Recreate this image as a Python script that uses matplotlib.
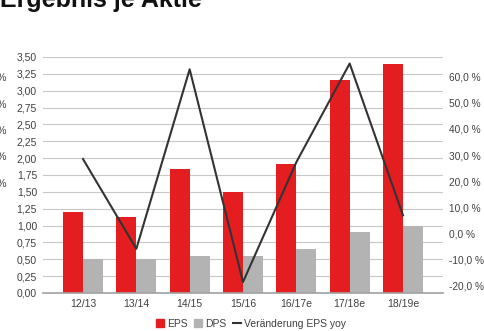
import numpy as np
from matplotlib import pyplot as plt
from matplotlib.ticker import FuncFormatter
from matplotlib.patches import Patch
from matplotlib.lines import Line2D

plt.rcParams['font.family'] = ['Liberation Sans', 'DejaVu Sans']

years = ["12/13", "13/14", "14/15", "15/16", "16/17e", "17/18e", "18/19e"]
eps = [1.20, 1.13, 1.84, 1.50, 1.91, 3.16, 3.39]
dps = [0.50, 0.50, 0.55, 0.55, 0.65, 0.90, 1.00]
eps_change = [28.5, -5.8, 62.8, -18.5, 27.3, 65.0, 7.0]

red = "#e41e20"
grey = "#b3b3b3"
text_col = "#404040"

fig = plt.figure(figsize=(4.85, 3.31), dpi=100)
ax = fig.add_axes([43 / 485, 1 - 293 / 331, 400 / 485, 236 / 331])

x = np.arange(len(years))
w = 0.375
ax.bar(x - w / 2, eps, w, color=red, zorder=2)
ax.bar(x + w / 2, dps, w, color=grey, zorder=2)

ax.set_xlim(-0.75, 6.75)
ax.set_ylim(0, 3.5)
ax.set_yticks(np.arange(0, 3.51, 0.25))
ax.yaxis.set_major_formatter(FuncFormatter(lambda v, p: f"{v:.2f}".replace(".", ",")))
ax.grid(axis="y", color="#c8c8c8", linewidth=0.8, zorder=0)
ax.set_xticks(x)
ax.set_xticklabels(years)
ax.tick_params(length=0, labelsize=7.5, colors=text_col)
ax.tick_params(axis="y", pad=4.3)
ax.tick_params(axis="x", pad=4)
for s in ["top", "right", "left"]:
    ax.spines[s].set_visible(False)
ax.spines["bottom"].set_color("#a0a0a0")
ax.spines["bottom"].set_linewidth(1.2)

ax2 = ax.twinx()
ax2.plot(x, eps_change, color="#333333", linewidth=1.5, zorder=3)
ax2.set_ylim(-22.7, 67.5)
ax2.set_yticks(np.arange(-20, 61, 10))
ax2.yaxis.set_major_formatter(FuncFormatter(lambda v, p: f"{v:.1f} %".replace(".", ",")))
ax2.tick_params(length=0, labelsize=7.3, colors=text_col, pad=4.5)
for s in ax2.spines.values():
    s.set_visible(False)

handles = [
    Patch(color=red, label="EPS"),
    Patch(color=grey, label="DPS"),
    Line2D([0], [0], color="#333333", linewidth=1.5, label="Veränderung EPS yoy"),
]
leg = fig.legend(handles=handles, loc="center", bbox_to_anchor=(251 / 485, 1 - 324 / 331),
                 ncol=3, frameon=False, fontsize=7.5, handlelength=0.8, handleheight=0.8,
                 handletextpad=0.3, columnspacing=0.6)
for t in leg.get_texts():
    t.set_color(text_col)

# cut-off title and left-edge remnants from the original page
fig.text(0, 1 - 7 / 331, "Ergebnis je Aktie", fontsize=18, fontweight="bold",
         va="baseline", ha="left", color="#111111")
for yy in [78, 104, 131, 157, 184]:
    fig.text(6 / 485, 1 - yy / 331, "0,0 %", fontsize=7.5, ha="right", va="center", color=text_col)

fig.savefig("out.png", dpi=100)
